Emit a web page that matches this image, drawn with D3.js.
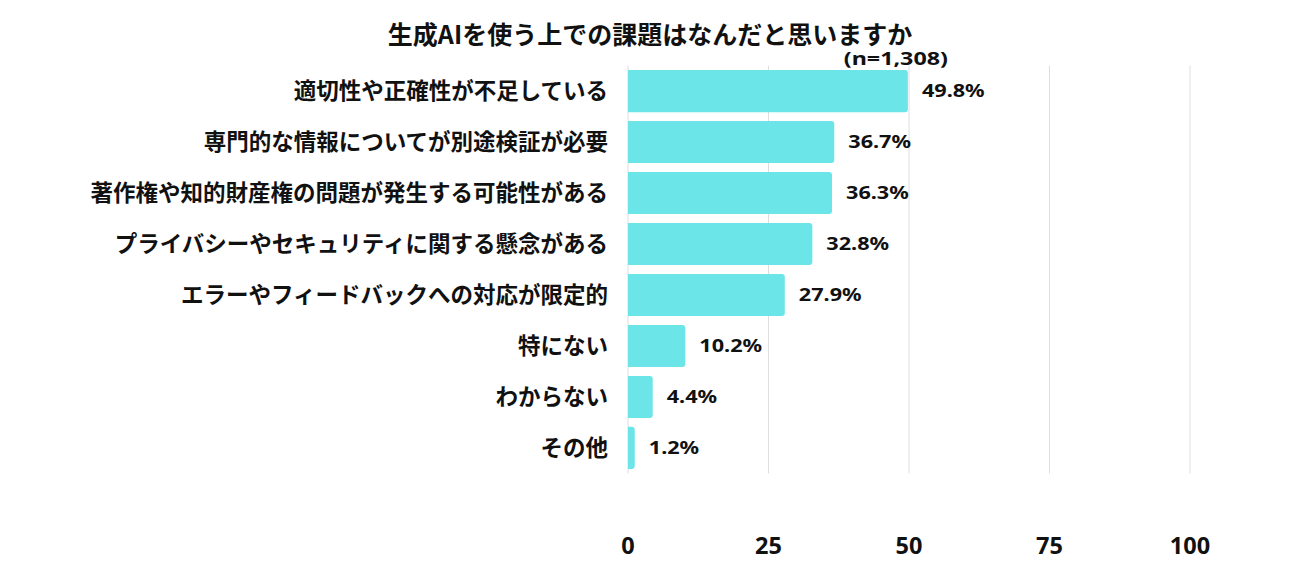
<!DOCTYPE html>
<html>
<head>
<meta charset="utf-8">
<script src="https://cdn.jsdelivr.net/npm/d3@7"></script>
<style>
  body { margin: 0; background: #fff; }
  text { font-family: "Noto Sans CJK JP", "Noto Sans", sans-serif; font-weight: bold; fill: #111; }
  .latin { font-family: "Noto Sans", "Noto Sans CJK JP", sans-serif; }
</style>
</head>
<body>
<svg id="chart"></svg>
<script>
// chart data
const categories = [
    "適切性や正確性が不足している",
    "専門的な情報についてが別途検証が必要",
    "著作権や知的財産権の問題が発生する可能性がある",
    "プライバシーやセキュリティに関する懸念がある",
    "エラーやフィードバックへの対応が限定的",
    "特にない",
    "わからない",
    "その他"
];
const values = [49.8, 36.7, 36.3, 32.8, 27.9, 10.2, 4.4, 1.2];
const ticks = [0, 25, 50, 75, 100];

const width = 1298, height = 571;
const plotLeft = 628, plotRight = 1190, plotTop = 65.6, plotBottom = 473.4;
const wide = 1.26; // the source font's numerals are broader than Noto Sans

const svg = d3.select("#chart")
    .attr("width", width)
    .attr("height", height);

const x = d3.scaleLinear().domain([0, 100]).range([plotLeft, plotRight]);
const y = d3.scaleBand().domain(categories).range([plotTop, plotBottom])
    .paddingInner(0.174).paddingOuter(0.087);

// gridlines
svg.append("g")
    .selectAll("line")
    .data(ticks)
    .join("line")
    .attr("x1", d => x(d)).attr("x2", d => x(d))
    .attr("y1", plotTop).attr("y2", plotBottom)
    .attr("stroke", "#dedede")
    .attr("stroke-width", 1);

// bars, rounded on the right end only
const r = 3;
svg.append("g")
    .selectAll("path")
    .data(values)
    .join("path")
    .attr("fill", "#6ce5e8")
    .attr("d", (d, i) => {
        const x0 = x(0), x1 = x(d), y0 = y(categories[i]), h = y.bandwidth();
        const rr = Math.min(r, (x1 - x0) / 2);
        return `M${x0},${y0} H${x1 - rr} Q${x1},${y0} ${x1},${y0 + rr} V${y0 + h - rr} Q${x1},${y0 + h} ${x1 - rr},${y0 + h} H${x0} Z`;
    });

// value labels
svg.append("g")
    .selectAll("text")
    .data(values)
    .join("text")
    .attr("class", "latin")
    .attr("transform", (d, i) => `translate(${x(d) + 14},${y(categories[i]) + y.bandwidth() / 2}) scale(${wide},1)`)
    .attr("dy", "0.36em")
    .attr("font-size", 17.2)
    .text(d => d.toFixed(1) + "%");

// category labels
svg.append("g")
    .selectAll("text")
    .data(categories)
    .join("text")
    .attr("x", 608)
    .attr("y", d => y(d) + y.bandwidth() / 2)
    .attr("dy", "0.36em")
    .attr("text-anchor", "end")
    .attr("font-size", 22.5)
    .text(d => d);

// x axis tick labels
svg.append("g")
    .selectAll("text")
    .data(ticks)
    .join("text")
    .attr("class", "latin")
    .attr("x", d => x(d))
    .attr("y", 554)
    .attr("text-anchor", "middle")
    .attr("font-size", 23.5)
    .text(d => d);

// title
svg.append("text")
    .attr("x", 650)
    .attr("y", 44)
    .attr("text-anchor", "middle")
    .attr("font-size", 25)
    .text("生成AIを使う上での課題はなんだと思いますか");

svg.append("text")
    .attr("class", "latin")
    .attr("transform", `translate(948,65) scale(${wide},1)`)
    .attr("text-anchor", "end")
    .attr("font-size", 18.5)
    .text("(n=1,308)");
</script>
</body>
</html>
